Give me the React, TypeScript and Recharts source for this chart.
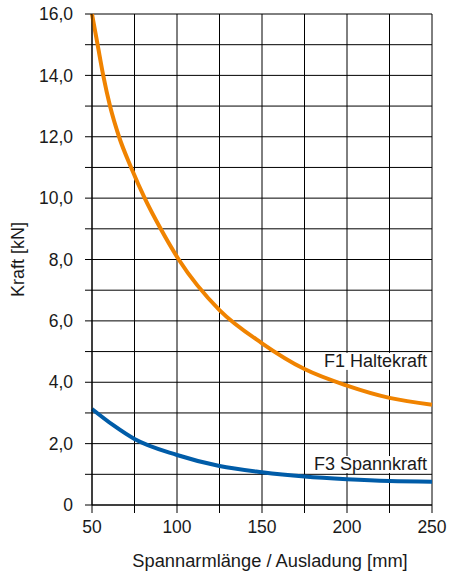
import React from 'react';
import {
  LineChart,
  Line,
  XAxis,
  YAxis,
  CartesianGrid,
  ReferenceDot,
} from 'recharts';

// F1 Haltekraft: Spannarmlänge [mm] / Kraft [kN]
const f1Lengths = [50, 53.3, 56.6, 60.6, 65.9, 73, 81, 90.4, 101, 125, 150, 175, 200, 225, 250];
const f1Force = [16, 15, 14, 13, 12, 11, 10, 9, 8, 6.35, 5.27, 4.43, 3.89, 3.49, 3.27];

// F3 Spannkraft: Spannarmlänge [mm] / Kraft [kN]
const f3Lengths = [50, 62.5, 75, 100, 125, 150, 175, 200, 225, 250];
const f3Force = [3.13, 2.6, 2.15, 1.63, 1.27, 1.07, 0.93, 0.84, 0.78, 0.76];

const xTicks = [50, 75, 100, 125, 150, 175, 200, 225, 250];
const yTicks = [0, 1, 2, 3, 4, 5, 6, 7, 8, 9, 10, 11, 12, 13, 14, 15, 16];

const f1Data = f1Lengths.map((x, i) => ({ x, f: f1Force[i] }));
const f3Data = f3Lengths.map((x, i) => ({ x, f: f3Force[i] }));

const FONT = '"Liberation Sans", Arial, sans-serif';
const TEXT = '#1a1a1a';
const ORANGE = '#f08300';
const BLUE = '#005ca8';

const fmtY = (v: number) => (v % 2 !== 0 ? '' : v === 0 ? '0' : v.toFixed(1).replace('.', ','));
const fmtX = (v: number) => (v % 50 === 0 ? String(v) : '');

function CurveLabel({ cx, cy, text }: any) {
  const w = text.length * 8.3 + 4;
  return (
    <g>
      <rect x={cx - w - 3} y={cy - 14} width={w} height={17} fill="#fff" />
      <text x={cx - 5} y={cy} textAnchor="end" fontFamily={FONT} fontSize={18} fill={TEXT}>
        {text}
      </text>
    </g>
  );
}

export default function App() {
  return (
    <div style={{ position: 'absolute', left: 0, top: 0, width: 450, height: 576, background: '#fff' }}>
      <LineChart width={450} height={576} margin={{ top: 14, right: 18, bottom: 0, left: 0 }}>
        <CartesianGrid stroke="#000" strokeWidth={1} />
        <XAxis
          dataKey="x"
          type="number"
          domain={[50, 250]}
          ticks={xTicks}
          tickFormatter={fmtX}
          interval={0}
          height={71}
          tickSize={8}
          tickMargin={8}
          stroke="#000"
          allowDuplicatedCategory={false}
          tick={{ fontFamily: FONT, fontSize: 17.5, fill: TEXT }}
          label={{
            content: ({ viewBox }: any) => (
              <text
                x={viewBox.x + viewBox.width / 2 + 8}
                y={viewBox.y + 62}
                textAnchor="middle"
                fontFamily={FONT}
                fontSize={18.3}
                fill={TEXT}
              >
                Spannarmlänge / Ausladung [mm]
              </text>
            ),
          }}
        />
        <YAxis
          type="number"
          domain={[0, 16]}
          ticks={yTicks}
          tickFormatter={fmtY}
          interval={0}
          width={92}
          tickSize={7}
          tickMargin={12}
          stroke="#000"
          tick={{ fontFamily: FONT, fontSize: 17.5, fill: TEXT }}
          label={{
            content: ({ viewBox }: any) => {
              const cx = viewBox.x + 18;
              const cy = viewBox.y + viewBox.height / 2;
              return (
                <text
                  x={cx}
                  y={cy}
                  textAnchor="middle"
                  dominantBaseline="central"
                  transform={`rotate(-90, ${cx}, ${cy})`}
                  fontFamily={FONT}
                  fontSize={18}
                  fill={TEXT}
                >
                  Kraft [kN]
                </text>
              );
            },
          }}
        />
        <Line
          data={f1Data}
          type="monotone"
          dataKey="f"
          stroke={ORANGE}
          strokeWidth={4}
          dot={false}
          isAnimationActive={false}
        />
        <Line
          data={f3Data}
          type="monotone"
          dataKey="f"
          stroke={BLUE}
          strokeWidth={4}
          dot={false}
          isAnimationActive={false}
        />
        <ReferenceDot x={250} y={4.5} r={0} shape={(p: any) => <CurveLabel {...p} text="F1 Haltekraft" />} />
        <ReferenceDot x={250} y={1.14} r={0} shape={(p: any) => <CurveLabel {...p} text="F3 Spannkraft" />} />
      </LineChart>
    </div>
  );
}
